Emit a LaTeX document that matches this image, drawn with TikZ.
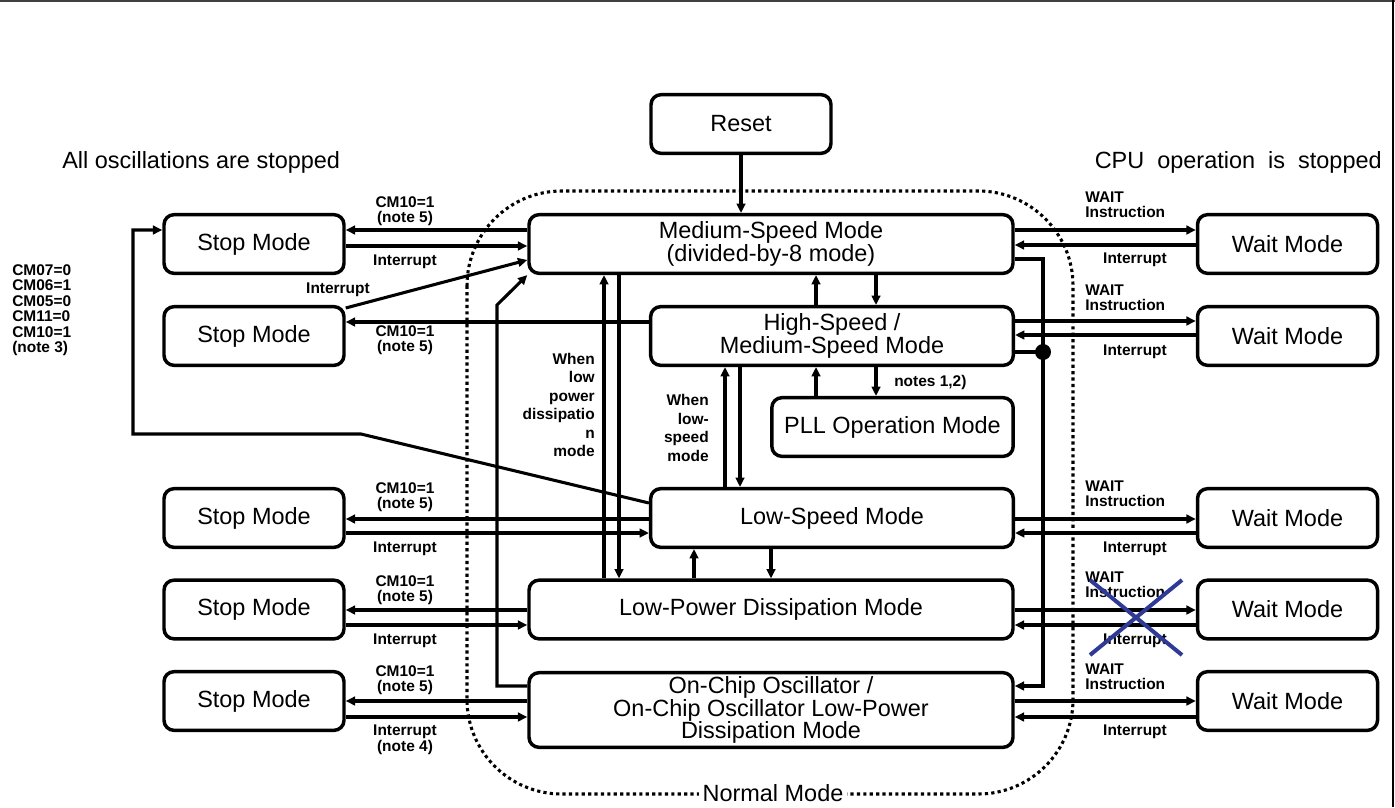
\documentclass[tikz,border=0pt]{standalone}
\usepackage{fontspec}
\setmainfont{Liberation Sans}
\usetikzlibrary{arrows.meta}
\newcommand\boxfont{\fontsize{17.6pt}{16.8pt}\selectfont}
\newcommand\lblfont{\fontsize{11.6pt}{11.6pt}\selectfont\bfseries}
\newcommand\whenfont{\fontsize{11.6pt}{13.9pt}\selectfont\bfseries}
\definecolor{xblue}{RGB}{46,58,150}
\begin{document}
\begin{tikzpicture}[x=0.75pt,y=-0.75pt,
  box/.style={draw,line width=2.6pt,rounded corners=7.5pt,inner sep=0pt,align=center,font=\boxfont,minimum height=44pt},
  sidebox/.style={box,minimum width=135pt},
  widebox/.style={box,minimum width=363pt},
  midbox/.style={box,minimum width=272pt},
  arr/.style={line width=2.3pt,-{Triangle[length=7pt,width=6.5pt]}},
  ln/.style={line width=2.3pt},
  lbl/.style={inner sep=0pt,font=\lblfont,align=center},
  normal/.style={draw,line width=2.3pt,dash pattern=on 2.4pt off 2.4pt,rounded corners=71pt},
  plain/.style={inner sep=0pt,font=\boxfont}]
\useasboundingbox (0,0) rectangle (1395,807);
% frame
\draw[line width=1.8pt,black!75] (0,1) -- (1395,1);
\draw[line width=2.2pt] (1393,0) -- (1393,807);
% normal mode region
\draw[normal] (467,191) rectangle (1073,794);
\node[plain,fill=white,inner sep=3pt] (nm) at (773,793) {Normal Mode};
% headings
\node[plain,anchor=west] (allosc) at (62,162) {All oscillations are stopped};
\node[plain,anchor=east] (cpu) at (1382,162) {CPU\ \ operation\ \ is\ \ stopped};
% central boxes
\node[sidebox] (reset) at (741,124) {Reset};
\node[widebox] (med) at (771,244) {Medium-Speed Mode\\(divided-by-8 mode)};
\node[midbox] (high) at (832,336) {High-Speed /\\Medium-Speed Mode};
\node[box,minimum width=181pt] (pll) at (892.5,427) {PLL Operation Mode};
\node[midbox] (low) at (832,518) {Low-Speed Mode};
\node[widebox] (lowp) at (771,609.5) {Low-Power Dissipation Mode};
\node[widebox,minimum height=56pt] (chip) at (771,710) {On-Chip Oscillator /\\On-Chip Oscillator Low-Power\\Dissipation Mode};
% stop boxes
\node[sidebox] (stop1) at (254,244) {Stop Mode};
\node[sidebox] (stop2) at (254,336) {Stop Mode};
\node[sidebox] (stop3) at (254,518) {Stop Mode};
\node[sidebox] (stop4) at (254,609.5) {Stop Mode};
\node[sidebox] (stop5) at (254,701) {Stop Mode};
% wait boxes
\node[sidebox] (wait1) at (1287.5,244) {Wait Mode};
\node[sidebox] (wait2) at (1287.5,336) {Wait Mode};
\node[sidebox] (wait3) at (1287.5,518) {Wait Mode};
\node[sidebox] (wait4) at (1287.5,609.5) {Wait Mode};
\node[sidebox] (wait5) at (1287.5,701) {Wait Mode};
% reset
\draw[arr] (reset.south) -- (reset.south |- med.north);
% left side connectors
\draw[arr] (med.west |- 0,230) -- (stop1.east |- 0,230);
\draw[arr] (stop1.east |- 0,246) -- (med.west |- 0,246);
\draw[arr] (high.west |- 0,322) -- (stop2.east |- 0,322);
\draw[arr] (stop2.east |- 0,308) -- (med.west |- 0,260);
\draw[arr] (low.west |- 0,519) -- (stop3.east |- 0,519);
\draw[arr] (stop3.east |- 0,533) -- (low.west |- 0,533);
\draw[arr] (lowp.west |- 0,610) -- (stop4.east |- 0,610);
\draw[arr] (stop4.east |- 0,625) -- (lowp.west |- 0,625);
\draw[arr] (chip.west |- 0,701) -- (stop5.east |- 0,701);
\draw[arr] (stop5.east |- 0,717) -- (chip.west |- 0,717);
% right side connectors
\draw[arr] (med.east |- 0,230) -- (wait1.west |- 0,230);
\draw[arr] (wait1.west |- 0,245) -- (med.east |- 0,245);
\draw[arr] (high.east |- 0,321) -- (wait2.west |- 0,321);
\draw[arr] (wait2.west |- 0,335) -- (high.east |- 0,335);
\draw[arr] (low.east |- 0,519) -- (wait3.west |- 0,519);
\draw[arr] (wait3.west |- 0,533) -- (low.east |- 0,533);
\draw[arr] (lowp.east |- 0,610) -- (wait4.west |- 0,610);
\draw[arr] (wait4.west |- 0,625) -- (lowp.east |- 0,625);
\draw[arr] (chip.east |- 0,701) -- (wait5.west |- 0,701);
\draw[arr] (wait5.west |- 0,717) -- (chip.east |- 0,717);
% right vertical return line
\coordinate (rt) at (1043,259);
\coordinate (dot) at (1043,352);
\coordinate (rb) at (1043,686);
\draw[arr] (med.east |- rt) -- (rt) -- (rb) -- (chip.east |- rb);
\draw[ln] (high.east |- dot) -- (dot);
\fill (dot) circle (6pt);
% left loop from low-speed to stop 1
\coordinate (lp1) at (361,434);
\coordinate (lp2) at (133,434);
\coordinate (lp3) at (133,230);
\draw[arr] (low.west |- 0,503) -- (lp1) -- (lp2) -- (lp3) -- (stop1.west |- lp3);
% left vertical from on-chip to medium
\coordinate (lv1) at (497,686);
\coordinate (lv2) at (497,305);
\draw[arr] (chip.west |- lv1) -- (lv1) -- (lv2) -- (med.south west);
% vertical connectors
\draw[arr] (604,0 |- lowp.north) -- (604,0 |- med.south);
\draw[arr] (619,0 |- med.south) -- (619,0 |- lowp.north);
\draw[arr] (816,0 |- high.north) -- (816,0 |- med.south);
\draw[arr] (876,0 |- med.south) -- (876,0 |- high.north);
\draw[arr] (816,0 |- pll.north) -- (816,0 |- high.south);
\draw[arr] (876,0 |- high.south) -- (876,0 |- pll.north);
\draw[arr] (725,0 |- low.north) -- (725,0 |- high.south);
\draw[arr] (740,0 |- high.south) -- (740,0 |- low.north);
\draw[arr] (694,0 |- lowp.north) -- (694,0 |- low.south);
\draw[arr] (771,0 |- low.south) -- (771,0 |- lowp.north);
% labels left
\node[lbl] (l1a) at (405,211) {CM10=1\\(note 5)};
\node[lbl] (l1b) at (405,262) {Interrupt};
\node[lbl] (l2a) at (405,340) {CM10=1\\(note 5)};
\node[lbl] (l2b) at (338,290) {Interrupt};
\node[lbl] (l3a) at (405,497) {CM10=1\\(note 5)};
\node[lbl] (l3b) at (405,549) {Interrupt};
\node[lbl] (l4a) at (405,590) {CM10=1\\(note 5)};
\node[lbl] (l4b) at (405,641) {Interrupt};
\node[lbl] (l5a) at (405,680) {CM10=1\\(note 5)};
\node[lbl] (l5b) at (405,740) {Interrupt\\(note 4)};
\node[lbl,anchor=west,align=left] (cm) at (12,310) {CM07=0\\CM06=1\\CM05=0\\CM11=0\\CM10=1\\(note 3)};
% labels right
\node[lbl,anchor=west,align=left] (r1a) at (1085,205) {WAIT\\Instruction};
\node[lbl] (r1b) at (1135,260) {Interrupt};
\node[lbl,anchor=west,align=left] (r2a) at (1085,298) {WAIT\\Instruction};
\node[lbl] (r2b) at (1135,352) {Interrupt};
\node[lbl,anchor=west,align=left] (r3a) at (1085,494) {WAIT\\Instruction};
\node[lbl] (r3b) at (1135,549) {Interrupt};
\node[lbl,anchor=west,align=left] (r4a) at (1085,585) {WAIT\\Instruction};
\node[lbl] (r4b) at (1135,641) {Interrupt};
\node[lbl,anchor=west,align=left] (r5a) at (1085,677) {WAIT\\Instruction};
\node[lbl] (r5b) at (1135,732) {Interrupt};
% inner labels
\node[lbl,anchor=east,align=right,font=\whenfont] (w1) at (595,405) {When\\low\\power\\dissipatio\\n\\mode};
\node[lbl,anchor=east,align=right,font=\whenfont] (w2) at (709,428) {When\\low-\\speed\\mode};
\node[lbl,anchor=west] (n12) at (894,382) {notes 1,2)};
% cross
\draw[xblue,line width=3pt] (1090,580) -- (1182,655) (1090,655) -- (1182,580);
\end{tikzpicture}
\end{document}
